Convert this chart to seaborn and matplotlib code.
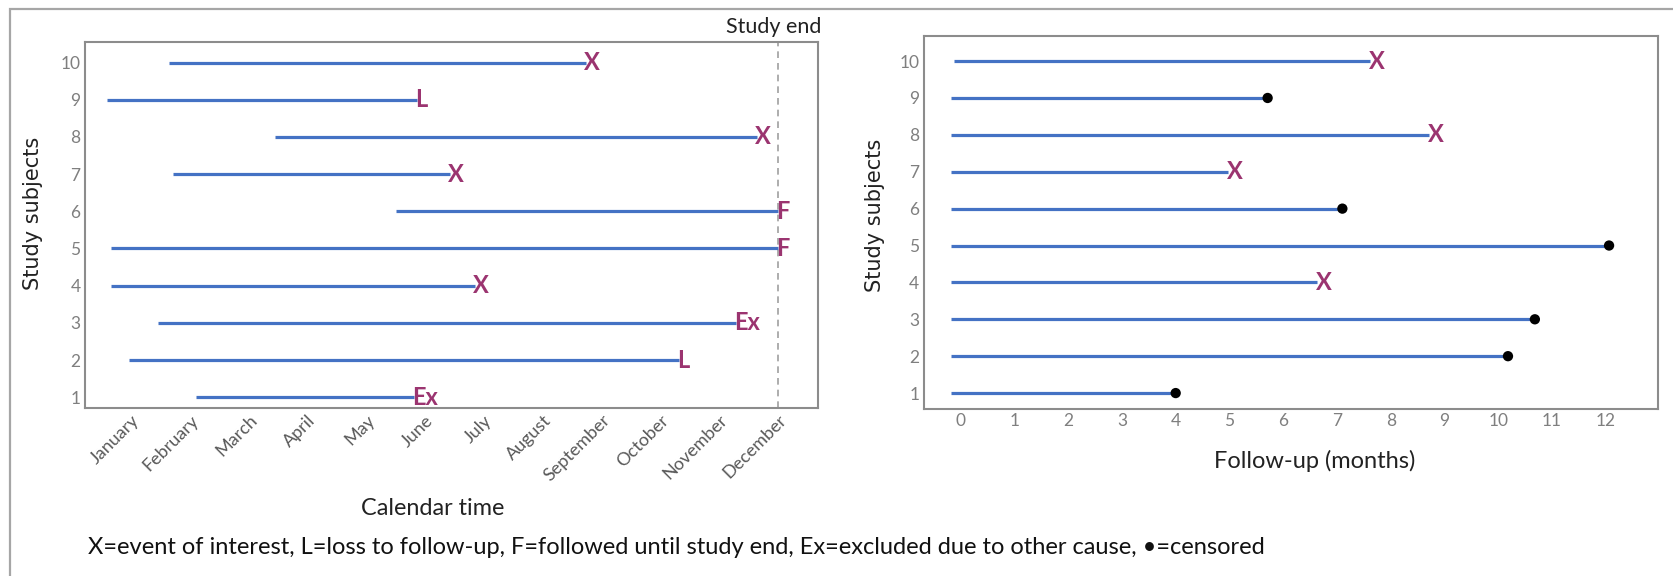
import matplotlib
matplotlib.use("Agg")
import matplotlib.pyplot as plt
import matplotlib.transforms as mtransforms
from matplotlib.patches import Rectangle
import pandas as pd
import seaborn as sns

subjects = [1, 2, 3, 4, 5, 6, 7, 8, 9, 10]
months = ["January", "February", "March", "April", "May", "June", "July",
          "August", "September", "October", "November", "December"]

# calendar time panel, in month units (1 = January, 12 = December = study end)
cal_start = [2.11, 0.96, 1.46, 0.66, 0.66, 5.51, 1.72, 3.44, 0.59, 1.64]
cal_end = [5.81, 10.31, 11.28, 6.84, 12.0, 12.0, 6.42, 11.64, 5.86, 8.73]
cal_outcome = ["Ex", "L", "Ex", "X", "F", "F", "X", "X", "L", "X"]

# follow-up panel, in months since entry ("C" = censored dot)
fu_start = [-0.17, -0.17, -0.17, -0.17, -0.17, -0.17, -0.17, -0.17, -0.17, -0.12]
fu_end = [4.0, 10.18, 10.68, 6.62, 12.06, 7.1, 4.97, 8.72, 5.71, 7.61]
fu_outcome = ["C", "C", "C", "X", "C", "C", "X", "X", "C", "X"]
fu_ticks = list(range(0, 13))

caption = ("X=event of interest, L=loss to follow-up, F=followed until study end, "
           "Ex=excluded due to other cause, \u2022=censored")

LINE = "#4472c4"
MARK = "#9b3470"
SPINE = "#8c8c8c"
TICK = "#7f7f7f"

sns.set_theme(style="white")
plt.rcParams["font.family"] = ["Lato", "DejaVu Sans"]

cal = pd.DataFrame({"subject": subjects, "start": cal_start, "end": cal_end,
                    "outcome": cal_outcome})
fu = pd.DataFrame({"subject": subjects, "start": fu_start, "end": fu_end,
                   "outcome": fu_outcome})

fig = plt.figure(figsize=(16.73, 5.76), dpi=100)
W, H = 1673, 576
ax1 = fig.add_axes([84.6 / W, 1 - 408 / H, (818 - 84.6) / W, (408 - 41.7) / H])
ax2 = fig.add_axes([923.5 / W, 1 - 409.3 / H, (1658 - 923.5) / W, (409.3 - 36) / H])

# outer frame
fig.patches.append(Rectangle((9.6 / W, -0.1), 1.2, 1.1 - 9.3 / H, transform=fig.transFigure,
                             fill=False, ec="#a6a6a6", lw=1.6, clip_on=False))

# ---- left: calendar time
ax1.hlines(cal["subject"], cal["start"], cal["end"], color=LINE, lw=2.3, zorder=2)
for _, r in cal.iterrows():
    ax1.text(r["end"] - 0.03, r["subject"], r["outcome"], ha="left", va="center",
             color=MARK, fontsize=17, fontweight="bold", zorder=3)
ax1.axvline(12, color="#a0a0a0", ls=(0, (4, 3)), lw=1.2, zorder=1)
trans = mtransforms.blended_transform_factory(ax1.transData, ax1.transAxes)
ax1.text(11.93, 1.041, "Study end", transform=trans, ha="center", va="center",
         fontsize=15.5, color="#222222")
ax1.set_xlim(0.21, 12.68)
ax1.set_ylim(0.71, 10.56)
ax1.set_xticks(range(1, 13))
ax1.set_xticklabels(months, rotation=45, ha="right", va="top", rotation_mode="anchor",
                    fontsize=13, color="#595959")
ax1.set_yticks(subjects)
ax1.set_yticklabels([str(s) for s in subjects], fontsize=12.5, color=TICK)
ax1.set_xlabel("Calendar time", fontsize=16.8, color="#222222")
ax1.set_ylabel("Study subjects", fontsize=15, color="#222222", family="DejaVu Sans")
ax1.xaxis.set_label_coords(0.475, -0.246)
ax1.yaxis.set_label_coords(-0.057, 0.53)

# ---- right: follow-up
ax2.hlines(fu["subject"], fu["start"], fu["end"], color=LINE, lw=2.3, zorder=2)
ev = fu[fu["outcome"] != "C"]
for _, r in ev.iterrows():
    ax2.text(r["end"] - 0.02, r["subject"], r["outcome"], ha="left", va="center",
             color=MARK, fontsize=17, fontweight="bold", zorder=3)
cens = fu[fu["outcome"] == "C"]
sns.scatterplot(data=cens, x="end", y="subject", color="black", s=55, edgecolor="none",
                ax=ax2, zorder=4, legend=False)
ax2.set_xlim(-0.69, 12.97)
ax2.set_ylim(0.56, 10.68)
ax2.set_xticks(fu_ticks)
ax2.set_xticklabels([str(t) for t in fu_ticks], fontsize=12.5, color=TICK)
ax2.set_yticks(subjects)
ax2.set_yticklabels([str(s) for s in subjects], fontsize=12.5, color=TICK)
ax2.set_xlabel("Follow-up (months)", fontsize=17, color="#222222")
ax2.set_ylabel("Study subjects", fontsize=15, color="#222222", family="DejaVu Sans")
ax2.xaxis.set_label_coords(0.533, -0.109)
ax2.yaxis.set_label_coords(-0.052, 0.52)

for ax in (ax1, ax2):
    ax.tick_params(length=0, pad=3)
    for sp in ax.spines.values():
        sp.set_visible(True)
        sp.set_color(SPINE)
        sp.set_linewidth(1.5)

fig.text(87.5 / W, 1 - 548 / H, caption, ha="left", va="center", fontsize=17,
         color="#111111")

fig.savefig("out.png", dpi=100)
